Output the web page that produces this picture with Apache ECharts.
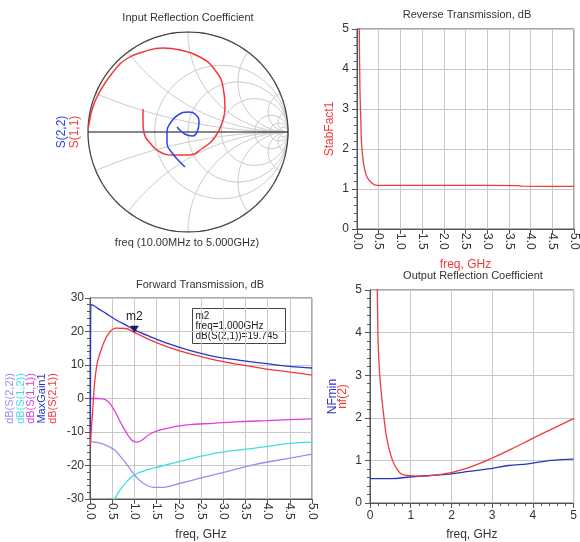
<!DOCTYPE html>
<html>
<head>
<meta charset="utf-8">
<script src="https://cdn.jsdelivr.net/npm/echarts@6/dist/echarts.min.js"></script>
<style>
html, body { margin: 0; padding: 0; background: #fff; }
#main { width: 580px; height: 542px; }
</style>
</head>
<body>
<div id="main"></div>
<script>
// Smith chart traces, reflection coefficient as [re, im]
const s11 = [
  [-0.45, 0.23], [-0.45, 0.09], [-0.44, -0.01], [-0.38, -0.11], [-0.28, -0.2], [-0.15, -0.23],
  [0.0, -0.23], [0.15, -0.16], [0.27, -0.05], [0.34, 0.09], [0.37, 0.25], [0.35, 0.45],
  [0.27, 0.62], [0.12, 0.75], [-0.08, 0.82], [-0.25, 0.84], [-0.45, 0.8], [-0.6, 0.74],
  [-0.75, 0.6], [-0.9, 0.37], [-0.96, 0.22], [-0.99, 0.08], [-0.995, 0.05]
];
const s22 = [
  [-0.11, 0.05], [-0.06, 0.0], [-0.01, -0.03], [0.05, -0.04], [0.09, 0.0], [0.11, 0.09],
  [0.08, 0.17], [0.0, 0.2], [-0.1, 0.17], [-0.17, 0.1], [-0.21, 0.0], [-0.21, -0.11],
  [-0.15, -0.22], [-0.08, -0.3], [-0.03, -0.35]
];
// Smith grid values
const smithR = [0.5, 1, 2, 5, 10, 20];
const smithX = [0.2, 0.5, 1, 2, 5, 10];

// StabFact1 vs freq (GHz)
const stabFact1 = [
  [0.03, 9], [0.053, 5], [0.068, 3.5], [0.09, 2.65], [0.105, 2.15], [0.15, 1.65], [0.225, 1.31],
  [0.34, 1.15], [0.47, 1.09], [1.0, 1.09], [2.0, 1.09], [3.0, 1.09], [3.7, 1.085], [3.8, 1.07], [5.0, 1.065]
];

// Forward transmission panel, dB vs freq (GHz)
const maxGain1 = [
  [0.01, -13], [0.02, 28], [0.1, 27.6], [0.21, 26.6], [0.35, 25.5], [0.51, 24.1], [0.65, 23],
  [0.81, 21.9], [1.0, 20.5], [1.35, 18.5], [1.73, 16.5], [2.18, 14.6], [2.78, 12.6], [3.38, 11.4],
  [3.98, 10.4], [4.5, 9.6], [5.0, 9.1]
];
const dbS21 = [
  [0.01, -14], [0.03, -9], [0.06, -3.9], [0.1, 4.1], [0.17, 11], [0.29, 16], [0.43, 19.6],
  [0.59, 21], [0.81, 20.9], [1.0, 19.745], [1.35, 17.5], [1.73, 15.5], [2.18, 13.6], [2.78, 11.6],
  [3.38, 10.1], [3.98, 8.8], [4.5, 7.9], [5.0, 7.0]
];
const dbS11 = [
  [0.01, 0], [0.15, 0], [0.29, -0.1], [0.4, -0.8], [0.47, -1.9], [0.56, -3.8], [0.66, -6.4],
  [0.75, -8.6], [0.85, -10.9], [0.93, -12.3], [1.0, -12.9], [1.05, -13.0], [1.15, -12.6],
  [1.35, -10.6], [1.55, -9.5], [1.73, -8.9], [2.18, -7.9], [2.78, -7.4], [3.38, -6.9],
  [3.98, -6.6], [4.5, -6.3], [5.0, -6.1]
];
const dbS12 = [
  [0.45, -36], [0.56, -30], [0.68, -27.3], [0.83, -24.8], [1.0, -22.8], [1.28, -21.3], [1.58, -20.3],
  [2.03, -18.8], [2.48, -17.3], [3.08, -15.8], [3.68, -14.9], [4.5, -13.4], [5.0, -13.0]
];
const dbS22 = [
  [0.01, -12.9], [0.25, -13.4], [0.43, -14.4], [0.55, -15.3], [0.66, -16.9], [0.81, -19.3],
  [1.0, -22.8], [1.2, -25.3], [1.43, -26.5], [1.65, -26.5], [2.03, -25.3], [2.48, -23.8],
  [3.08, -21.8], [3.68, -19.8], [4.5, -17.8], [5.0, -16.6]
];
const marker = { name: 'm2', freq: 1.0, value: 19.745 };

// Noise panel vs freq (GHz)
const nf2 = [
  [0.16, 7], [0.18, 5], [0.19, 4.3], [0.2, 3.76], [0.24, 2.98], [0.32, 2.2], [0.4, 1.58], [0.49, 1.19],
  [0.61, 0.88], [0.77, 0.68], [0.97, 0.645], [1.29, 0.63], [1.62, 0.66], [2.02, 0.72], [2.51, 0.86],
  [2.99, 1.05], [3.48, 1.27], [3.96, 1.5], [4.45, 1.73], [5.0, 1.98]
];
const nfMin = [
  [0, 0.57], [0.49, 0.57], [0.97, 0.61], [1.46, 0.645], [1.94, 0.68], [2.43, 0.74], [2.91, 0.8],
  [3.4, 0.88], [3.88, 0.92], [4.45, 1.0], [5.0, 1.03]
];

const FONT = 'Liberation Sans, Arial, sans-serif';
const RED = '#f03a3a';
const BLUE = '#2a35c8';

// smith grid geometry
function rCircle(r) {
  const c = r / (1 + r), rad = 1 / (1 + r), pts = [];
  for (let i = 0; i <= 160; i++) {
    const a = i / 160 * 2 * Math.PI;
    pts.push([c + rad * Math.cos(a), rad * Math.sin(a)]);
  }
  return pts;
}
function xArc(x) {
  const pts = [];
  for (let i = 0; i < 200; i++) {
    const t = i / 200;
    const r = t / (1 - t);
    const d = (r + 1) * (r + 1) + x * x;
    pts.push([(r * r - 1 + x * x) / d, 2 * x / d]);
  }
  pts.push([1, 0]);
  return pts;
}

const smithGrid = [];
smithR.forEach(r => smithGrid.push(rCircle(r)));
smithX.forEach(x => { smithGrid.push(xArc(x)); smithGrid.push(xArc(-x)); });

const series = [];
smithGrid.forEach(pts => series.push({
  type: 'line', xAxisIndex: 0, yAxisIndex: 0, data: pts, showSymbol: false, silent: true,
  lineStyle: { color: '#cacaca', width: 1 }, z: 1
}));
series.push({
  type: 'line', xAxisIndex: 0, yAxisIndex: 0, data: rCircle(0), showSymbol: false, silent: true,
  lineStyle: { color: '#444', width: 1.3 }, z: 2
});
series.push({
  type: 'line', xAxisIndex: 0, yAxisIndex: 0, data: [[-1, 0], [1, 0]], showSymbol: false, silent: true,
  lineStyle: { color: '#111', width: 1.2 }, z: 2
});
series.push({
  name: 'S(1,1)', type: 'line', xAxisIndex: 0, yAxisIndex: 0, data: s11, smooth: true,
  showSymbol: false, lineStyle: { color: RED, width: 1.5 }, z: 3
});
series.push({
  name: 'S(2,2)', type: 'line', xAxisIndex: 0, yAxisIndex: 0, data: s22, smooth: true,
  showSymbol: false, lineStyle: { color: '#2a44f0', width: 1.5 }, z: 3
});

function trace(data, color, xi, yi, extra) {
  return Object.assign({
    type: 'line', xAxisIndex: xi, yAxisIndex: yi, data: data, smooth: 0.35,
    showSymbol: false, lineStyle: { color: color, width: 1.3 }, z: 3
  }, extra || {});
}
series.push(trace(stabFact1, RED, 1, 1));
series.push(trace(dbS22, '#9a8cf0', 2, 2));
series.push(trace(dbS12, '#3fdfe6', 2, 2));
series.push(trace(dbS11, '#e03ce0', 2, 2));
series.push(trace(maxGain1, BLUE, 2, 2));
series.push(trace(dbS21, RED, 2, 2, {
  markPoint: {
    symbol: 'path://M0,0 L10,0 L5,8 Z', symbolSize: [9, 7], symbolOffset: [0, -3],
    itemStyle: { color: '#1a1a5a' },
    label: { show: true, position: 'top', formatter: marker.name, color: '#222', fontSize: 12, fontFamily: FONT, distance: 3 },
    data: [{ coord: [marker.freq, marker.value] }]
  }
}));
series.push(trace(nfMin, BLUE, 3, 3));
series.push(trace(nf2, RED, 3, 3));

function valAxis(o) {
  return Object.assign({
    type: 'value', gridIndex: o.gridIndex,
    axisLine: { show: true, onZero: false, lineStyle: { color: '#555' } },
    axisTick: { show: true, length: 5, lineStyle: { color: '#555' } },
    minorTick: { show: false },
    splitLine: { show: true, lineStyle: { color: '#c8c8c8' } },
    axisLabel: { color: '#333', fontSize: 12, fontFamily: FONT },
    nameTextStyle: { fontFamily: FONT, fontSize: 12 }
  }, o);
}
const minor5 = { show: true, splitNumber: 5, length: 3, lineStyle: { color: '#555' } };
const fmt1 = v => v.toFixed(1);

const option = {
  animation: false,
  backgroundColor: '#fff',
  textStyle: { fontFamily: FONT },
  title: [
    { text: 'Input Reflection Coefficient', left: 188, top: 12 },
    { text: 'freq (10.00MHz to 5.000GHz)', left: 187, top: 237 },
    { text: 'Reverse Transmission, dB', left: 467, top: 9 },
    { text: 'Forward Transmission, dB', left: 200, top: 279 },
    { text: 'Output Reflection Coefficient', left: 473, top: 270 }
  ].map(t => Object.assign(t, {
    textAlign: 'center', padding: 0,
    textStyle: { fontSize: 11, fontWeight: 'normal', color: '#333', fontFamily: FONT }
  })),
  grid: [
    { left: 88, top: 32, width: 200, height: 200 },
    { left: 357, top: 29, width: 221, height: 200, show: true, borderColor: '#555', borderWidth: 1 },
    { left: 90, top: 298, width: 222, height: 201, show: true, borderColor: '#555', borderWidth: 1 },
    { left: 370, top: 290, width: 206, height: 214, show: true, borderColor: '#555', borderWidth: 1 }
  ],
  xAxis: [
    { type: 'value', gridIndex: 0, min: -1, max: 1, show: false },
    valAxis({
      gridIndex: 1, min: 0, max: 5, interval: 0.5,
      axisLabel: { color: '#333', fontSize: 12, fontFamily: FONT, rotate: -90, margin: 4, formatter: fmt1 },
      name: 'freq, GHz', nameLocation: 'middle', nameGap: 30,
      nameTextStyle: { color: RED, fontFamily: FONT, fontSize: 12 }
    }),
    valAxis({
      gridIndex: 2, min: 0, max: 5, interval: 0.5,
      axisLabel: { color: '#333', fontSize: 12, fontFamily: FONT, rotate: -90, margin: 4, formatter: fmt1 },
      name: 'freq, GHz', nameLocation: 'middle', nameGap: 30,
      nameTextStyle: { color: '#333', fontFamily: FONT, fontSize: 12 }
    }),
    valAxis({
      gridIndex: 3, min: 0, max: 5, interval: 1, minorTick: minor5,
      axisLabel: { color: '#333', fontSize: 12, fontFamily: FONT, margin: 7 },
      name: 'freq, GHz', nameLocation: 'middle', nameGap: 26,
      nameTextStyle: { color: '#333', fontFamily: FONT, fontSize: 12 }
    })
  ],
  yAxis: [
    {
      type: 'value', gridIndex: 0, min: -1, max: 1, show: true,
      axisLine: { show: false }, axisTick: { show: false }, axisLabel: { show: false }, splitLine: { show: false },
      name: '{a|S(2,2)}\n{b|S(1,1)}', nameLocation: 'middle', nameRotate: 90, nameGap: 7,
      nameTextStyle: {
        fontFamily: FONT, fontSize: 12, lineHeight: 13,
        rich: {
          a: { color: '#2a44f0', fontSize: 12, lineHeight: 13, fontFamily: FONT },
          b: { color: RED, fontSize: 12, lineHeight: 13, fontFamily: FONT }
        }
      }
    },
    valAxis({
      gridIndex: 1, min: 0, max: 5, interval: 1, minorTick: minor5,
      name: 'StabFact1', nameLocation: 'middle', nameRotate: 90, nameGap: 21,
      nameTextStyle: { color: RED, fontFamily: FONT, fontSize: 12 }
    }),
    valAxis({
      gridIndex: 2, min: -30, max: 30, interval: 10, minorTick: minor5,
      axisLabel: { color: '#333', fontSize: 12, fontFamily: FONT, margin: 6 },
      name: '{a|dB(S(2,2))}\n{b|dB(S(1,2))}\n{c|dB(S(1,1))}\n{d|MaxGain1}\n{e|dB(S(2,1))}',
      nameLocation: 'middle', nameRotate: 90, nameGap: 32,
      nameTextStyle: {
        fontFamily: FONT, fontSize: 11, lineHeight: 10.7,
        rich: {
          a: { color: '#9a8cf0', fontSize: 11, lineHeight: 10.7, fontFamily: FONT },
          b: { color: '#3fdfe6', fontSize: 11, lineHeight: 10.7, fontFamily: FONT },
          c: { color: '#e03ce0', fontSize: 11, lineHeight: 10.7, fontFamily: FONT },
          d: { color: BLUE, fontSize: 11, lineHeight: 10.7, fontFamily: FONT },
          e: { color: RED, fontSize: 11, lineHeight: 10.7, fontFamily: FONT }
        }
      }
    }),
    valAxis({
      gridIndex: 3, min: 0, max: 5, interval: 1, minorTick: minor5,
      name: '{a|NFmin}\n{b|nf(2)}', nameLocation: 'middle', nameRotate: 90, nameGap: 22,
      nameTextStyle: {
        fontFamily: FONT, fontSize: 12, lineHeight: 10,
        rich: {
          a: { color: BLUE, fontSize: 12, lineHeight: 10, fontFamily: FONT },
          b: { color: RED, fontSize: 12, lineHeight: 10, fontFamily: FONT }
        }
      }
    })
  ],
  graphic: [{
    type: 'group', left: 192, top: 308, z: 100,
    children: [
      { type: 'rect', shape: { x: 0, y: 0, width: 93, height: 35 }, style: { fill: '#fff', stroke: '#444', lineWidth: 1 } },
      {
        type: 'text', x: 3, y: 3,
        style: {
          text: marker.name + '\nfreq=' + marker.freq.toFixed(3) + 'GHz\ndB(S(2,1))=' + marker.value.toFixed(3),
          font: '10px ' + FONT, fill: '#222', lineHeight: 10
        }
      }
    ]
  }],
  series: series
};

const myChart = echarts.init(document.getElementById('main'));
myChart.setOption(option);
</script>
</body>
</html>
